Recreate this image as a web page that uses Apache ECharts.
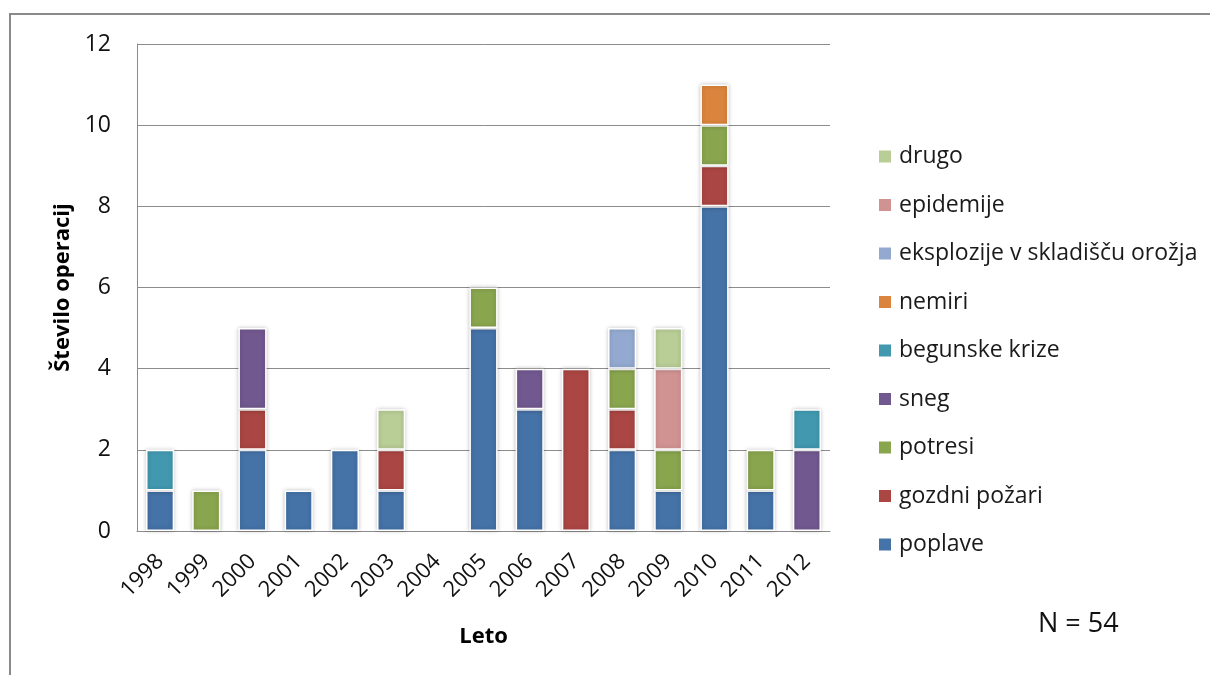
<!DOCTYPE html>
<html>
<head>
<meta charset="utf-8">
<style>
  html, body { margin: 0; padding: 0; background: #fff; }
  #chart { width: 1210px; height: 675px; }
</style>
<script src="https://cdn.jsdelivr.net/npm/echarts@6/dist/echarts.min.js"></script>
</head>
<body>
<div id="chart"></div>
<script>
// Število operacij po letih in vrsti nesreče
const years = ['1998','1999','2000','2001','2002','2003','2004','2005','2006','2007','2008','2009','2010','2011','2012'];
const yTicks = [0, 2, 4, 6, 8, 10, 12];

const poplave         = [1, 0, 2, 1, 2, 1, 0, 5, 3, 0, 2, 1, 8, 1, 0];
const gozdniPozari    = [0, 0, 1, 0, 0, 1, 0, 0, 0, 4, 1, 0, 1, 0, 0];
const potresi         = [0, 1, 0, 0, 0, 0, 0, 1, 0, 0, 1, 1, 1, 1, 0];
const sneg            = [0, 0, 2, 0, 0, 0, 0, 0, 1, 0, 0, 0, 0, 0, 2];
const begunskeKrize   = [1, 0, 0, 0, 0, 0, 0, 0, 0, 0, 0, 0, 0, 0, 1];
const nemiri          = [0, 0, 0, 0, 0, 0, 0, 0, 0, 0, 0, 0, 1, 0, 0];
const eksplozije      = [0, 0, 0, 0, 0, 0, 0, 0, 0, 0, 1, 0, 0, 0, 0];
const epidemije       = [0, 0, 0, 0, 0, 0, 0, 0, 0, 0, 0, 2, 0, 0, 0];
const drugo           = [0, 0, 0, 0, 0, 1, 0, 0, 0, 0, 0, 1, 0, 0, 0];

const seriesDefs = [
  { name: 'poplave', data: poplave, color: '#4572A7' },
  { name: 'gozdni požari', data: gozdniPozari, color: '#AA4643' },
  { name: 'potresi', data: potresi, color: '#89A54E' },
  { name: 'sneg', data: sneg, color: '#71588F' },
  { name: 'begunske krize', data: begunskeKrize, color: '#4198AF' },
  { name: 'nemiri', data: nemiri, color: '#DB843D' },
  { name: 'eksplozije v skladišču orožja', data: eksplozije, color: '#93A9CF' },
  { name: 'epidemije', data: epidemije, color: '#D19392' },
  { name: 'drugo', data: drugo, color: '#B9CD96' }
];

const font = "'Open Sans', 'Noto Sans', sans-serif";

const chart = echarts.init(document.getElementById('chart'), null, { renderer: 'canvas' });

chart.setOption({
  animation: false,
  backgroundColor: '#fff',
  textStyle: { fontFamily: font },
  grid: { left: 137, top: 44, width: 693, height: 487, containLabel: false },
  legend: {
    orient: 'vertical',
    left: 872,
    top: 140,
    itemWidth: 14,
    itemHeight: 14,
    itemGap: 25.5,
    icon: 'rect',
    data: seriesDefs.map(s => s.name).reverse(),
    textStyle: { fontSize: 23, color: '#1a1a1a', fontFamily: font, padding: [0, 0, 0, 2] }
  },
  xAxis: {
    type: 'category',
    data: years,
    name: 'Leto',
    nameLocation: 'middle',
    nameGap: 95,
    nameTextStyle: { fontSize: 22, fontWeight: 'bold', color: '#000', fontFamily: font },
    axisLine: { lineStyle: { color: '#8c8c8c', width: 1 } },
    axisTick: { show: false },
    axisLabel: { rotate: 45, fontSize: 22, color: '#111', margin: 27, interval: 0, fontFamily: font }
  },
  yAxis: {
    type: 'value',
    min: 0,
    max: 12,
    interval: 2,
    name: 'Število operacij',
    nameLocation: 'middle',
    nameGap: 62,
    nameRotate: 90,
    nameTextStyle: { fontSize: 22, fontWeight: 'bold', color: '#000', fontFamily: font },
    axisLine: { show: true, lineStyle: { color: '#8c8c8c', width: 1 } },
    axisTick: { show: false },
    splitLine: { lineStyle: { color: '#8c8c8c', width: 1 } },
    axisLabel: {
      fontSize: 23, color: '#111', margin: 26, fontFamily: font,
      formatter: v => yTicks.includes(v) ? String(v) : ''
    }
  },
  series: seriesDefs.map(s => ({
    name: s.name,
    type: 'bar',
    stack: 'skupaj',
    barWidth: '61%',
    data: s.data.map(v => v === 0 ? null : v),
    itemStyle: {
      color: s.color,
      borderColor: '#fff',
      borderWidth: 1.5,
      shadowColor: 'rgba(0,0,0,0.22)',
      shadowBlur: 4,
      shadowOffsetX: 0,
      shadowOffsetY: 0
    }
  })),
  graphic: [
    {
      type: 'polyline',
      shape: { points: [[10, 675], [10, 14], [1210, 14]] },
      style: { stroke: '#8a8a8a', lineWidth: 2, fill: null },
      silent: true
    },
    {
      type: 'text',
      left: 1038,
      top: 611,
      style: { text: 'N = 54', fontSize: 27, fill: '#111', fontFamily: font }
    }
  ]
});
</script>
</body>
</html>
